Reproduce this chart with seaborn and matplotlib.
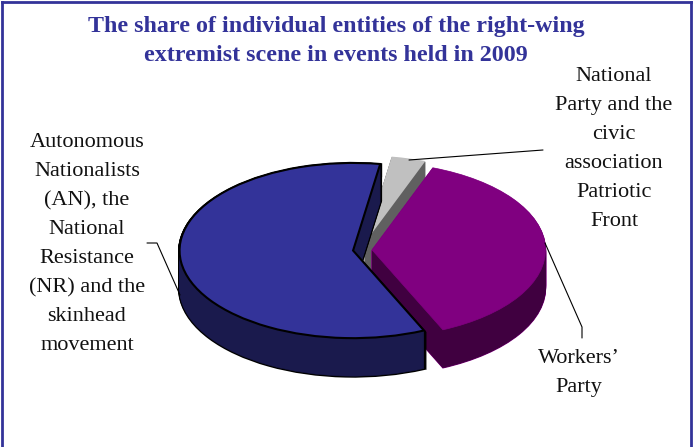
import numpy as np
import matplotlib
matplotlib.use("Agg")
import matplotlib.pyplot as plt
from matplotlib.lines import Line2D
from matplotlib.patches import Rectangle
import seaborn as sns

# shares (%), blue / purple / grey slice
labels = ["Autonomous\nNationalists\n(AN), the\nNational\nResistance\n(NR) and the\nskinhead\nmovement",
          "Workers’\nParty",
          "National\nParty and the\ncivic\nassociation\nPatriotic\nFront"]
shares = [59.2, 37.6, 3.2]
explode = [8, 11, 14]
top_colors = ["#333399", "#800080", "#c0c0c0"]
side_colors = ["#1a1a4d", "#400040", "#606060"]
title = "The share of individual entities of the right-wing\nextremist scene in events held in 2009"

W, H = 693, 447
SQUASH = 0.505
R = 173.5
CX, CY = 361, 250
DEPTH = 38
BLUE, PURPLE, GREY = 0, 1, 2


def px(x, y):
    return x / W, 1 - y / H


def to_data(x, y):
    # picture pixels to the stretched data space the pies live in
    return x, (H - y) / SQUASH


def slice_at(idx, depth, face, edge="none", lw=0.0, clip=None):
    center = to_data(CX, CY + depth)
    wedges, _ = ax.pie(shares, explode=explode, startangle=81, radius=R, center=center,
                       colors=[face] * 3, frame=True,
                       wedgeprops=dict(edgecolor=edge, linewidth=lw))
    for i, w in enumerate(wedges):
        if i != idx:
            w.remove()
        elif clip is not None:
            w.set_clip_path(clip)


def walls(idx, depth, outline=None, lw=0.0, clip=None):
    steps = np.arange(depth, 0, -1.0)
    if outline:
        for d in steps:
            slice_at(idx, d, outline, outline, lw, clip)
    for d in steps:
        slice_at(idx, d, side_colors[idx], side_colors[idx], 0.3, clip)


sns.set_theme(style="white")
plt.rcParams["font.family"] = ["Liberation Serif", "DejaVu Serif"]

fig = plt.figure(figsize=(W / 100, H / 100), dpi=100)
ax = fig.add_axes([0, 0, 1, 1])
ax.set_position([2 / W, 0, (W - 4) / W, (H - 2) / H])

# back part of the blue wall, the grey and purple slices go over it
walls(BLUE, 14, "black", 2.2)
walls(GREY, DEPTH)
slice_at(GREY, 0, top_colors[GREY])
walls(PURPLE, DEPTH, "#800080", 1.0)
slice_at(PURPLE, 0, top_colors[PURPLE], "#800080", 0.5)

# front part of the blue wall covers the purple wall
front = Rectangle(px(170, 447), 260 / W, (447 - 252) / H, transform=fig.transFigure)
walls(BLUE, DEPTH, "black", 2.2, front)
slice_at(BLUE, 0, top_colors[BLUE], "black", 1.5)

ax.set_aspect("auto")
ax.set_xlim(2, W - 2)
ax.set_ylim(0, (H - 2) / SQUASH)
ax.set_xticks([])
ax.set_yticks([])
sns.despine(ax=ax, left=False, right=False, top=False, bottom=True)
for side in ["left", "right", "top"]:
    ax.spines[side].set_color("#333399")
    ax.spines[side].set_linewidth(2.0)

fig.text(*px(336, 41), title, color="#333399", fontsize=17.3, fontweight="bold",
         ha="center", va="center", linespacing=1.5)
fig.text(*px(87, 244), labels[BLUE], color="#111111", fontsize=16, ha="center", va="center", linespacing=1.71)
fig.text(*px(579, 373), labels[PURPLE], color="#111111", fontsize=16, ha="center", va="center", linespacing=1.71)
fig.text(*px(614, 149), labels[GREY], color="#111111", fontsize=16, ha="center", va="center", linespacing=1.71)

# leader lines
for xs, ys in [([147, 157, 180], [243, 243, 295]),
               ([409, 543], [160, 150]),
               ([545, 582, 582], [243, 327, 338])]:
    pts = [px(x, y) for x, y in zip(xs, ys)]
    fig.add_artist(Line2D([p[0] for p in pts], [p[1] for p in pts], color="black", lw=0.8))

fig.savefig("out.png", dpi=100)
